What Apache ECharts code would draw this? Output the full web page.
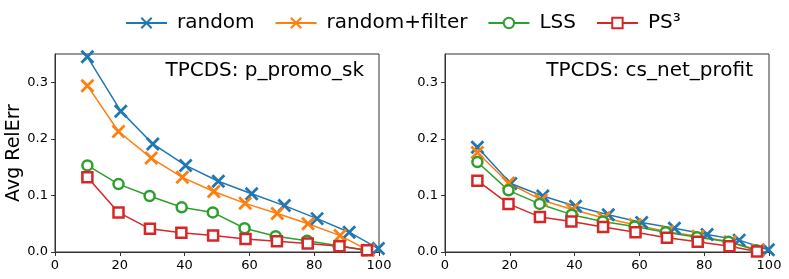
<!DOCTYPE html>
<html><head><meta charset="utf-8">
<script src="https://cdn.jsdelivr.net/npm/echarts@6/dist/echarts.min.js"></script>
<style>html,body{margin:0;padding:0;background:#fff}#c{width:789px;height:279px}</style>
</head><body><div id="c"></div>
<script>
const seriesNames = ['random', 'random+filter', 'LSS', 'PS³'];
const panelTitles = ['TPCDS: p_promo_sk', 'TPCDS: cs_net_profit'];
const xTicks = [0, 20, 40, 60, 80, 100];
const yTicks = [0, 0.1, 0.2, 0.3];

const randomX = [10, 20.3, 30.2, 40.3, 50.4, 60.7, 70.8, 80.9, 90.8, 99.8];
const filterX = [10, 19.6, 29.7, 39.3, 49.0, 58.7, 68.6, 78.1, 88.0, 96.7];
const lssX    = [10, 19.6, 29.2, 39.1, 48.7, 58.5, 68.1, 77.8, 87.5, 96.1];
const psX     = [10, 19.6, 29.3, 39.0, 48.8, 58.8, 68.5, 78.0, 87.8, 96.3];

const randomA = [0.345, 0.249, 0.191, 0.153, 0.125, 0.103, 0.082, 0.059, 0.035, 0.006];
const filterA = [0.294, 0.213, 0.166, 0.132, 0.107, 0.086, 0.068, 0.050, 0.029, 0.003];
const lssA    = [0.153, 0.120, 0.099, 0.079, 0.070, 0.042, 0.028, 0.020, 0.011, 0.003];
const psA     = [0.132, 0.070, 0.041, 0.034, 0.029, 0.023, 0.019, 0.015, 0.010, 0.003];

const randomB = [0.185, 0.121, 0.099, 0.081, 0.066, 0.052, 0.042, 0.031, 0.021, 0.004];
const filterB = [0.176, 0.122, 0.092, 0.075, 0.060, 0.048, 0.036, 0.028, 0.018, 0.003];
const lssB    = [0.159, 0.109, 0.085, 0.066, 0.054, 0.045, 0.035, 0.026, 0.018, 0.003];
const psB     = [0.126, 0.085, 0.062, 0.054, 0.044, 0.035, 0.025, 0.018, 0.010, 0.001];

const FONT = 'DejaVu Sans';
const colors = ['#1f77b4', '#ff7f0e', '#2ca02c', '#d62728'];
const xs = [randomX, filterX, lssX, psX];
const panels = [[randomA, filterA, lssA, psA], [randomB, filterB, lssB, psB]];
const XPATH = 'path://M0,0L10,10M10,0L0,10';

function pairs(x, y) { return x.map((v, i) => [v, y[i]]); }

const grids = [
  {left: 55, top: 54, width: 324, height: 198},
  {left: 445, top: 54, width: 324, height: 198}
];

const axisCommon = {
  axisLine: {show: true, lineStyle: {color: '#333', width: 1}},
  axisTick: {show: true, inside: false, length: 4, lineStyle: {color: '#333', width: 1}},
  splitLine: {show: false}
};

const xAxes = grids.map((g, i) => Object.assign({
  type: 'value', gridIndex: i, min: xTicks[0], max: xTicks[xTicks.length - 1],
  interval: xTicks[1] - xTicks[0],
  axisLabel: {fontFamily: FONT, fontSize: 13, color: '#000', margin: 7}
}, axisCommon));

const yAxes = grids.map((g, i) => Object.assign({
  type: 'value', gridIndex: i, min: 0, max: 0.35, interval: yTicks[1] - yTicks[0],
  axisLabel: {fontFamily: FONT, fontSize: 13, color: '#000', margin: 7, showMaxLabel: false,
    formatter: v => v.toFixed(1)},
  name: i === 0 ? 'Avg RelErr' : '', nameLocation: 'middle', nameGap: 31,
  nameTextStyle: {fontFamily: FONT, fontSize: 19, color: '#000'}
}, axisCommon));

const series = [];
panels.forEach((data, p) => {
  data.forEach((ys, s) => {
    const isX = s < 2;
    series.push({
      type: 'line', name: seriesNames[s], xAxisIndex: p, yAxisIndex: p,
      data: pairs(xs[s], ys),
      symbol: isX ? XPATH : (s === 2 ? 'circle' : 'rect'),
      symbolSize: isX ? 12 : 10,
      symbolKeepAspect: true,
      showAllSymbol: true,
      lineStyle: {color: colors[s], width: 1.5},
      itemStyle: isX ? {color: colors[s], borderColor: colors[s], borderWidth: 2.8}
                     : {color: '#fff', borderColor: colors[s], borderWidth: 2.5},
      emphasis: {disabled: true},
      animation: false
    });
  });
});

const option = {
  animation: false,
  grid: grids.map(g => Object.assign({show: true, borderColor: '#333', borderWidth: 1, backgroundColor: 'transparent'}, g)),
  xAxis: xAxes,
  yAxis: yAxes,
  title: [
    {text: panelTitles[0], right: 789 - 364, top: 61, padding: 0,
     textStyle: {fontFamily: FONT, fontSize: 20, fontWeight: 'normal', color: '#000'}},
    {text: panelTitles[1], right: 789 - 753, top: 61, padding: 0,
     textStyle: {fontFamily: FONT, fontSize: 20, fontWeight: 'normal', color: '#000'}}
  ],
  legend: {
    data: seriesNames, left: 125, top: 13, padding: 0,
    itemWidth: 41, itemHeight: 13, itemGap: 20,
    textStyle: {fontFamily: FONT, fontSize: 20, color: '#000', padding: [0, 0, 0, 5]}
  },
  series: series
};

const chart = echarts.init(document.getElementById('c'), null, {renderer: 'canvas'});
chart.setOption(option);
</script>
</body></html>
